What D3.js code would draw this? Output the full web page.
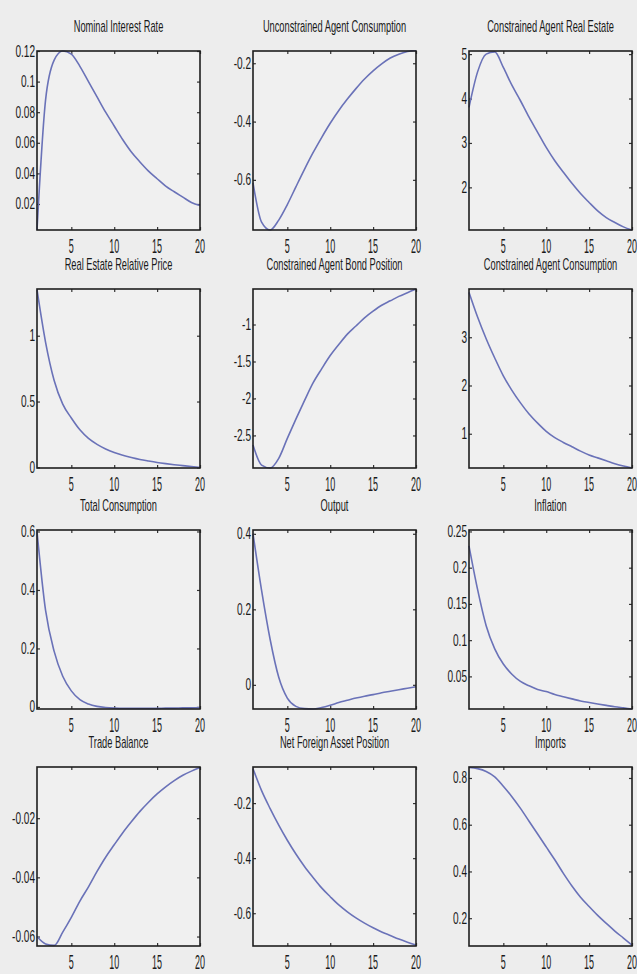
<!DOCTYPE html>
<html>
<head>
<meta charset="utf-8">
<script src="https://cdn.jsdelivr.net/npm/d3@7"></script>
<style>
  html, body { margin: 0; padding: 0; background: #ededed; }
  svg { display: block; }
  text { font-family: "Liberation Sans", Arial, sans-serif; fill: #1a1a1a; }
</style>
</head>
<body>
<svg id="chart" width="637" height="974"></svg>
<script>
// ---------------- data ----------------
const periods = [1,2,3,4,5,6,7,8,9,10,11,12,13,14,15,16,17,18,19,20];
const xTicks = [5, 10, 15, 20];

const titles = [
  "Nominal Interest Rate", "Unconstrained Agent Consumption", "Constrained Agent Real Estate",
  "Real Estate Relative Price", "Constrained Agent Bond Position", "Constrained Agent Consumption",
  "Total Consumption", "Output", "Inflation",
  "Trade Balance", "Net Foreign Asset Position", "Imports"
];

const nominalInterestRate = [0.003, 0.088, 0.114, 0.120, 0.118, 0.110, 0.100, 0.090, 0.080, 0.071, 0.062, 0.054, 0.0475, 0.0415, 0.0365, 0.0317, 0.028, 0.0245, 0.021, 0.019];
const unconstrainedConsumption = [-0.610, -0.745, -0.772, -0.738, -0.685, -0.624, -0.564, -0.507, -0.455, -0.406, -0.362, -0.323, -0.287, -0.254, -0.226, -0.202, -0.182, -0.169, -0.160, -0.155];
const constrainedRealEstate = [3.80, 4.60, 5.00, 5.05, 4.70, 4.30, 3.95, 3.58, 3.24, 2.90, 2.60, 2.34, 2.09, 1.86, 1.66, 1.47, 1.32, 1.21, 1.11, 1.04];
const realEstatePrice = [1.35, 0.95, 0.66, 0.48, 0.375, 0.285, 0.220, 0.175, 0.140, 0.113, 0.092, 0.075, 0.060, 0.048, 0.037, 0.028, 0.020, 0.013, 0.006, 0.000];
const constrainedBond = [-2.63, -2.90, -2.94, -2.81, -2.54, -2.28, -2.03, -1.79, -1.60, -1.42, -1.27, -1.13, -1.02, -0.91, -0.82, -0.74, -0.68, -0.62, -0.57, -0.52];
const constrainedConsumption = [3.93, 3.42, 2.97, 2.57, 2.20, 1.90, 1.64, 1.41, 1.22, 1.05, 0.92, 0.82, 0.73, 0.64, 0.56, 0.50, 0.44, 0.38, 0.33, 0.29];
const totalConsumption = [0.600, 0.330, 0.190, 0.105, 0.055, 0.025, 0.010, 0.002, -0.002, -0.004, -0.005, -0.005, -0.005, -0.005, -0.005, -0.004, -0.004, -0.003, -0.003, -0.002];
const output = [0.400, 0.250, 0.120, 0.020, -0.035, -0.057, -0.063, -0.064, -0.060, -0.054, -0.047, -0.041, -0.035, -0.030, -0.026, -0.021, -0.017, -0.013, -0.009, -0.005];
const inflation = [0.230, 0.170, 0.120, 0.088, 0.067, 0.053, 0.043, 0.037, 0.032, 0.029, 0.025, 0.022, 0.019, 0.016, 0.014, 0.012, 0.010, 0.008, 0.0065, 0.005];
const tradeBalance = [-0.0600, -0.0625, -0.0630, -0.0585, -0.0535, -0.0480, -0.0432, -0.0380, -0.0332, -0.0290, -0.0249, -0.0212, -0.0177, -0.0146, -0.0118, -0.0094, -0.0073, -0.0055, -0.0041, -0.0029];
const netForeignAssets = [-0.075, -0.155, -0.220, -0.280, -0.335, -0.385, -0.430, -0.470, -0.508, -0.540, -0.570, -0.595, -0.617, -0.636, -0.653, -0.668, -0.681, -0.694, -0.705, -0.715];
const imports = [0.845, 0.840, 0.828, 0.805, 0.765, 0.720, 0.670, 0.615, 0.560, 0.505, 0.450, 0.392, 0.338, 0.290, 0.250, 0.212, 0.178, 0.145, 0.115, 0.085];

const seriesList = [
  nominalInterestRate, unconstrainedConsumption, constrainedRealEstate,
  realEstatePrice, constrainedBond, constrainedConsumption,
  totalConsumption, output, inflation,
  tradeBalance, netForeignAssets, imports
];

const yLimits = [
  [0.003, 0.120], [-0.772, -0.158], [1.04, 5.07],
  [-0.005, 1.355], [-2.94, -0.52], [0.29, 4.0],
  [-0.007, 0.605], [-0.064, 0.41], [0.005, 0.252],
  [-0.0632, -0.0027], [-0.719, -0.069], [0.081, 0.847]
];

const yTickValues = [
  [0.02, 0.04, 0.06, 0.08, 0.1, 0.12], [-0.6, -0.4, -0.2], [2, 3, 4, 5],
  [0, 0.5, 1], [-2.5, -2, -1.5, -1], [1, 2, 3],
  [0, 0.2, 0.4, 0.6], [0, 0.2, 0.4], [0.05, 0.1, 0.15, 0.2, 0.25],
  [-0.06, -0.04, -0.02], [-0.6, -0.4, -0.2], [0.2, 0.4, 0.6, 0.8]
];

// ---------------- layout ----------------
const colLeft = [37, 253, 469];
const rowTop = [51, 289, 530, 767];
const plotW = 163, plotH = 179;

const svg = d3.select("#chart");
svg.append("rect").attr("width", 637).attr("height", 974).attr("fill", "#ededed");

function addText(g, x, y, str, size, sx, anchor) {
  g.append("text")
    .attr("transform", `translate(${x},${y}) scale(${sx},1)`)
    .attr("text-anchor", anchor)
    .style("font-size", size + "px")
    .text(str);
}

const fmt = v => String(+v.toFixed(4));

seriesList.forEach((vals, i) => {
  const r = Math.floor(i / 3), c = i % 3;
  const g = svg.append("g").attr("transform", `translate(${colLeft[c]},${rowTop[r]})`);

  const x = d3.scaleLinear().domain([1, 20]).range([0, plotW]);
  const y = d3.scaleLinear().domain(yLimits[i]).range([plotH, 0]);

  g.append("rect").attr("width", plotW).attr("height", plotH).attr("fill", "#f0f0f0");

  // inner ticks on all sides (MATLAB box style)
  const tl = 3;
  const axB = d3.axisTop(x).tickValues(xTicks).tickSize(tl).tickFormat("");
  const axT = d3.axisBottom(x).tickValues(xTicks).tickSize(tl).tickFormat("");
  const axL = d3.axisRight(y).tickValues(yTickValues[i]).tickSize(tl).tickFormat("");
  const axR = d3.axisLeft(y).tickValues(yTickValues[i]).tickSize(tl).tickFormat("");
  [[axB, `translate(0,${plotH})`], [axT, "translate(0,0)"], [axL, "translate(0,0)"], [axR, `translate(${plotW},0)`]]
    .forEach(([ax, tr]) => {
      const a = g.append("g").attr("transform", tr).call(ax);
      a.select(".domain").remove();
      a.selectAll("line").attr("stroke", "#333").attr("stroke-width", 1.2);
    });

  // clip so the smoothed line stays inside the box
  const clipId = "clip" + i;
  g.append("clipPath").attr("id", clipId).append("rect")
    .attr("x", -1).attr("y", -1).attr("width", plotW + 2).attr("height", plotH + 2);

  const line = d3.line().curve(d3.curveMonotoneX).x((d, k) => x(periods[k])).y(d => y(d));
  g.append("path").datum(vals)
    .attr("d", line)
    .attr("clip-path", `url(#${clipId})`)
    .attr("fill", "none")
    .attr("stroke", "#6a72b8")
    .attr("stroke-width", 1.6)
    .attr("stroke-linejoin", "round");

  // box
  g.append("rect").attr("width", plotW).attr("height", plotH)
    .attr("fill", "none").attr("stroke", "#1e1e1e").attr("stroke-width", 1.6);

  // tick labels
  yTickValues[i].forEach(v => addText(g, -2, y(v) + 5.5, fmt(v), 16, 0.63, "end"));
  xTicks.forEach(v => addText(g, x(v), plotH + 23, fmt(v), 20, 0.45, "middle"));

  // title
  addText(g, plotW / 2, -19, titles[i], 16, 0.58, "middle");
});
</script>
</body>
</html>
